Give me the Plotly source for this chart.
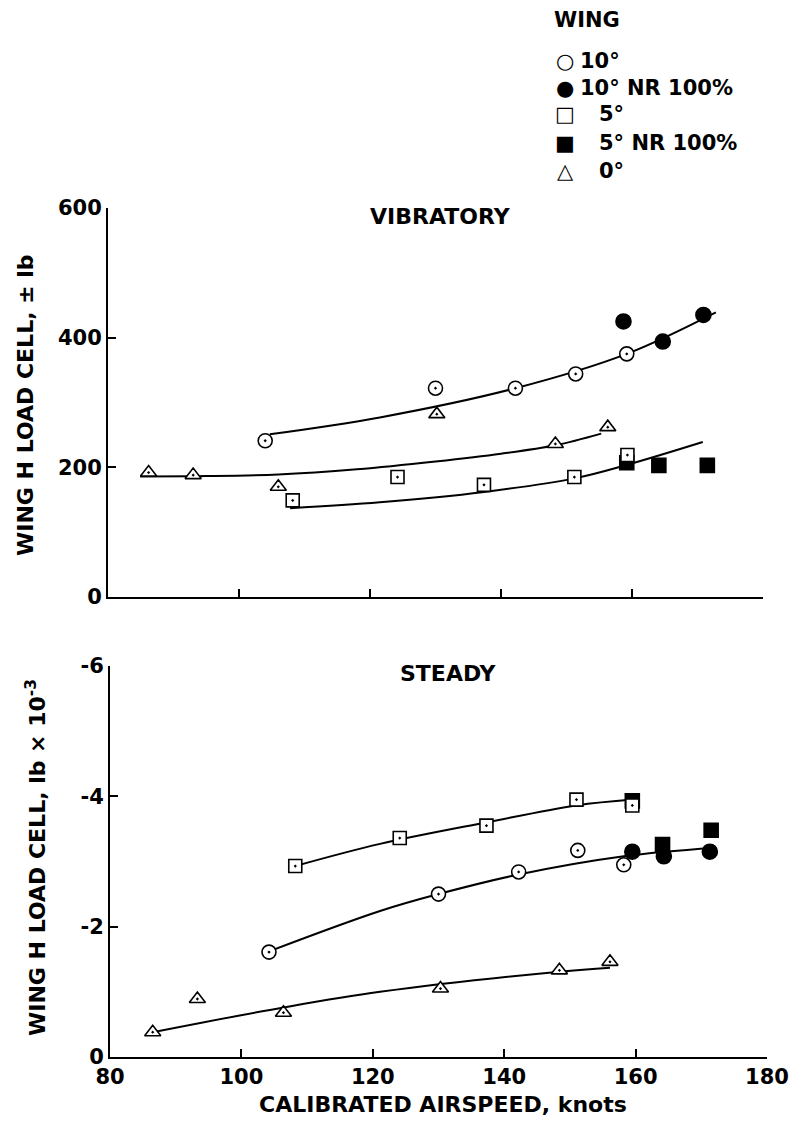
import plotly.graph_objects as go

FONT = "DejaVu Sans"
W, H = 792, 1122

# ---------------- VIBRATORY (± lb) ----------------
vib_10_x = [104.0, 130.0, 142.2, 151.4, 159.2]
vib_10_y = [241, 322, 322, 344, 375]
vib_10nr_x = [158.7, 164.7, 170.9]
vib_10nr_y = [425, 394, 435]
vib_5_x = [108.2, 124.2, 137.4, 151.2, 159.3]
vib_5_y = [149, 185, 173, 185, 219]
vib_5nr_x = [159.2, 164.1, 171.5]
vib_5nr_y = [207, 203, 203]
vib_0_x = [86.2, 93.0, 106.0, 130.2, 148.3, 156.3]
vib_0_y = [192, 188, 170, 282, 236, 262]

# faired curves
vib_fit10_x = [104.7, 121.5, 142.2, 159.2, 172.8]
vib_fit10_y = [251, 277, 322, 375, 439]
vib_fit5_x = [107.8, 121.5, 137.4, 151.2, 159.3, 170.8]
vib_fit5_y = [137, 146, 162, 183, 204, 239]
vib_fit0_x = [84.9, 95.0, 106.0, 118.0, 130.0, 140.0, 148.3, 155.3]
vib_fit0_y = [186, 186.5, 189, 197, 209, 221, 234, 252]

# ---------------- STEADY (lb x 10^-3) ----------------
st_10_x = [104.2, 130.0, 142.2, 151.2, 158.2]
st_10_y = [-1.61, -2.50, -2.84, -3.17, -2.95]
st_10nr_x = [159.5, 164.3, 171.3]
st_10nr_y = [-3.15, -3.08, -3.15]
st_5_x = [108.2, 124.1, 137.3, 151.0, 159.5]
st_5_y = [-2.93, -3.36, -3.55, -3.95, -3.86]
st_5nr_x = [159.5, 164.1, 171.5]
st_5nr_y = [-3.93, -3.26, -3.48]
st_0_x = [86.5, 93.3, 106.4, 130.3, 148.4, 156.1]
st_0_y = [-0.38, -0.89, -0.68, -1.05, -1.33, -1.46]

st_fit10_x = [104.2, 121.1, 130.0, 142.2, 158.2, 172.1]
st_fit10_y = [-1.62, -2.24, -2.50, -2.80, -3.08, -3.21]
st_fit5_x = [108.2, 121.1, 137.3, 151.0, 159.6]
st_fit5_y = [-2.93, -3.27, -3.60, -3.86, -3.95]
st_fit0_x = [86.5, 106.4, 121.1, 148.4, 156.1]
st_fit0_y = [-0.38, -0.76, -1.00, -1.31, -1.37]

# axis ticks
x_ticks = [80, 100, 120, 140, 160, 180]
vib_ticks = [0, 200, 400, 600]
st_ticks = [0, -2, -4, -6]
st_ticktext = ["0", "-2", "-4", "-6"]

legend_glyphs = ["○", "●", "□", "■", "△"]
legend_labels = ["10°", "10° NR 100%", "5°", "5° NR 100%", "0°"]

fig = go.Figure()


def px_x(p):
    return p / W


def px_y(p):
    return 1 - p / H


def curve(x, y, xa, ya):
    fig.add_trace(go.Scatter(
        x=x, y=y, mode="lines", xaxis=xa, yaxis=ya, hoverinfo="skip",
        line=dict(color="black", width=2, shape="spline", smoothing=1.0),
        showlegend=False))


def points(x, y, symbol, size, filled, xa, ya):
    fig.add_trace(go.Scatter(
        x=x, y=y, mode="markers", xaxis=xa, yaxis=ya, showlegend=False,
        marker=dict(symbol=symbol, size=size,
                    color="black" if filled else "white",
                    line=dict(color="black", width=1.6))))


for xa, ya, fits, series in [
    ("x", "y",
     [(vib_fit10_x, vib_fit10_y), (vib_fit5_x, vib_fit5_y), (vib_fit0_x, vib_fit0_y)],
     [(vib_10nr_x, vib_10nr_y, "circle", 15, True),
      (vib_5nr_x, vib_5nr_y, "square", 14, True),
      (vib_10_x, vib_10_y, "circle-dot", 14, False),
      (vib_5_x, vib_5_y, "square-dot", 13, False),
      (vib_0_x, vib_0_y, "triangle-up-dot", 14, False)]),
    ("x2", "y2",
     [(st_fit10_x, st_fit10_y), (st_fit5_x, st_fit5_y), (st_fit0_x, st_fit0_y)],
     [(st_5nr_x, st_5nr_y, "square", 14, True),
      (st_10nr_x, st_10nr_y, "circle", 15, True),
      (st_10_x, st_10_y, "circle-dot", 14, False),
      (st_5_x, st_5_y, "square-dot", 13, False),
      (st_0_x, st_0_y, "triangle-up-dot", 14, False)]),
]:
    for fx, fy in fits:
        curve(fx, fy, xa, ya)
    for sx, sy, sym, sz, filled in series:
        points(sx, sy, sym, sz, filled, xa, ya)

tickfont = dict(family=FONT, size=21, color="black", weight="bold")
axis_common = dict(showline=True, linecolor="black", linewidth=2, showgrid=False,
                   zeroline=False, ticks="inside", tickcolor="black", tickwidth=2,
                   ticklen=8, tickfont=tickfont, automargin=False)

fig.update_layout(
    width=W, height=H,
    margin=dict(l=0, r=0, t=0, b=0, pad=0),
    paper_bgcolor="white", plot_bgcolor="white",
    showlegend=False,
    xaxis=dict(domain=[px_x(108), px_x(763)], range=[80, 180], anchor="y",
               tickvals=x_ticks, showticklabels=False, **axis_common),
    yaxis=dict(domain=[px_y(597), px_y(208)], range=[0, 600], anchor="x",
               tickvals=vib_ticks, **axis_common),
    xaxis2=dict(domain=[px_x(110), px_x(767)], range=[80, 180], anchor="y2",
                tickvals=x_ticks, **axis_common),
    yaxis2=dict(domain=[px_y(1057), px_y(666)], range=[0, -6], anchor="x2",
                tickvals=st_ticks, ticktext=st_ticktext, **axis_common),
)

bold = lambda s: dict(family=FONT, size=s, color="black", weight="bold")
ann = []
# panel titles
ann.append(dict(text="VIBRATORY", x=px_x(440), y=px_y(216), font=bold(22)))
ann.append(dict(text="STEADY", x=px_x(448), y=px_y(673), font=bold(22)))
# axis titles
ann.append(dict(text="WING H LOAD CELL, ± lb", x=px_x(25), y=px_y(405),
                textangle=-90, font=bold(22)))
ann.append(dict(text="WING H LOAD CELL, lb × 10<sup>-3</sup>", x=px_x(36), y=px_y(858),
                textangle=-90, font=bold(22)))
ann.append(dict(text="CALIBRATED AIRSPEED, knots", x=px_x(443), y=px_y(1104),
                font=bold(22)))
# key
ann.append(dict(text="WING", x=px_x(552), y=px_y(20), xanchor="left", font=bold(21)))
rows = [61, 88, 114, 143, 171]
label_x = [578, 578, 597, 597, 597]
for g, lab, ry, lx in zip(legend_glyphs, legend_labels, rows, label_x):
    ann.append(dict(text=g, x=px_x(565), y=px_y(ry), font=dict(family=FONT, size=21, color="black")))
    ann.append(dict(text=lab, x=px_x(lx), y=px_y(ry), xanchor="left", font=bold(21)))

for a in ann:
    a.setdefault("xanchor", "center")
    a.update(xref="paper", yref="paper", yanchor="middle", showarrow=False)
fig.update_layout(annotations=ann)

fig.write_html("out.html")
